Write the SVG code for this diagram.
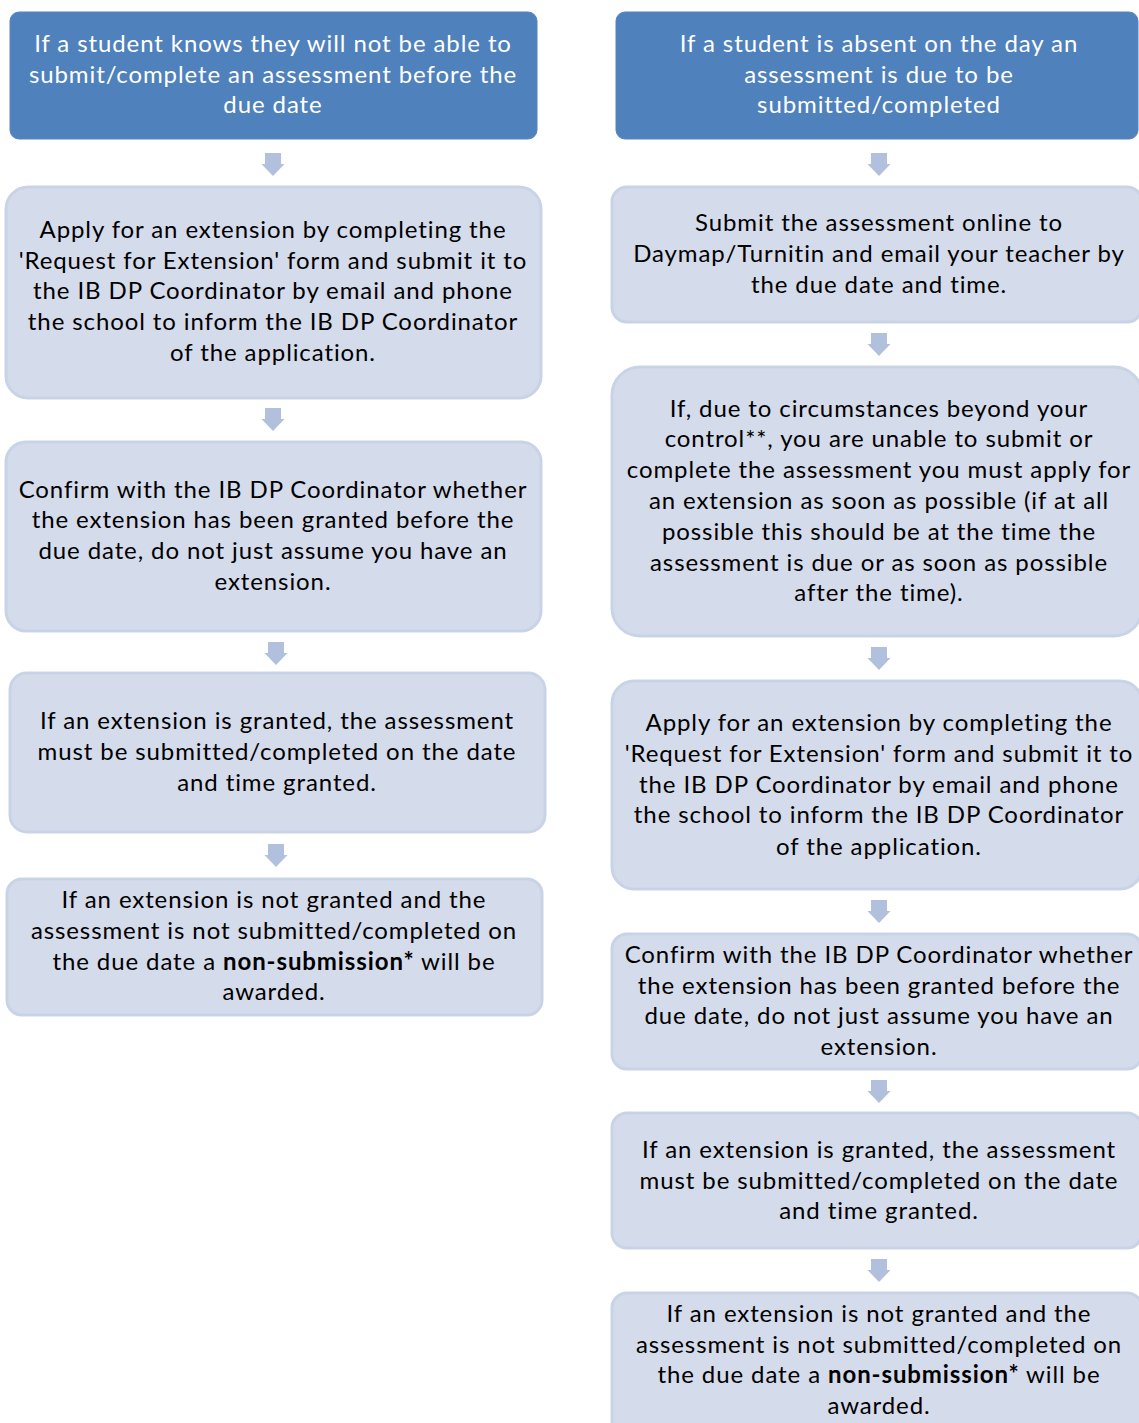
<svg xmlns="http://www.w3.org/2000/svg" width="1139" height="1423" viewBox="0 0 1139 1423">
<defs>
<style>
.hdr{fill:#4F81BD;stroke:#5585BF;stroke-width:1}
.box{fill:#D4DBEB;stroke:#C9D3E7;stroke-width:3}
.arr{fill:#B0C0DD}
text{font-family:Lato,"Open Sans","Liberation Sans",sans-serif;font-size:24px;letter-spacing:0.9px;text-anchor:middle}
.w{fill:#FFFFFF}
.k{fill:#000000}
.b{font-weight:bold}
</style>
<path id="arrow" d="M-8,0 H8 V11 H11.5 L0,23 L-11.5,11 H-8 Z"/>
</defs>
<rect width="1139" height="1423" fill="#FFFFFF"/>
<g id="connectors">
<use href="#arrow" class="arr" x="273" y="153"/>
<use href="#arrow" class="arr" x="273" y="408"/>
<use href="#arrow" class="arr" x="276" y="642"/>
<use href="#arrow" class="arr" x="276" y="844"/>
<use href="#arrow" class="arr" x="879" y="153"/>
<use href="#arrow" class="arr" x="879" y="333"/>
<use href="#arrow" class="arr" x="879" y="647"/>
<use href="#arrow" class="arr" x="879" y="900"/>
<use href="#arrow" class="arr" x="879" y="1080"/>
<use href="#arrow" class="arr" x="879" y="1259"/>
</g>
<g id="L1">
<rect class="hdr" x="10" y="12" width="527" height="127" rx="9"/>
<text class="w"><tspan x="273" y="52">If a student knows they will not be able to</tspan><tspan x="273" y="83">submit/complete an assessment before the</tspan><tspan x="273" y="113">due date</tspan></text>
</g>
<g id="L2">
<rect class="box" x="6" y="187" width="535" height="211" rx="22"/>
<text class="k"><tspan x="273" y="238">Apply for an extension by completing the</tspan><tspan x="273" y="269">'Request for Extension' form and submit it to</tspan><tspan x="273" y="299">the IB DP Coordinator by email and phone</tspan><tspan x="273" y="330">the school to inform the IB DP Coordinator</tspan><tspan x="273" y="361">of the application.</tspan></text>
</g>
<g id="L3">
<rect class="box" x="6" y="442" width="535" height="189" rx="20"/>
<text class="k"><tspan x="273" y="498">Confirm with the IB DP Coordinator whether</tspan><tspan x="273" y="528">the extension has been granted before the</tspan><tspan x="273" y="559">due date, do not just assume you have an</tspan><tspan x="273" y="590">extension.</tspan></text>
</g>
<g id="L4">
<rect class="box" x="10" y="673" width="535" height="159" rx="17"/>
<text class="k"><tspan x="277" y="729">If an extension is granted, the assessment</tspan><tspan x="277" y="760">must be submitted/completed on the date</tspan><tspan x="277" y="791">and time granted.</tspan></text>
</g>
<g id="L5">
<rect class="box" x="7" y="879" width="535" height="136" rx="15"/>
<text class="k"><tspan x="274" y="908">If an extension is not granted and the</tspan><tspan x="274" y="939">assessment is not submitted/completed on</tspan><tspan x="274" y="970">the due date a <tspan class="b">non-submission*</tspan> will be</tspan><tspan x="274" y="1000">awarded.</tspan></text>
</g>
<g id="R1">
<rect class="hdr" x="616" y="12" width="522" height="127" rx="9"/>
<text class="w"><tspan x="879" y="52">If a student is absent on the day an</tspan><tspan x="879" y="83">assessment is due to be</tspan><tspan x="879" y="113">submitted/completed</tspan></text>
</g>
<g id="R2">
<rect class="box" x="612" y="187" width="530" height="135" rx="15"/>
<text class="k"><tspan x="879" y="231">Submit the assessment online to</tspan><tspan x="879" y="262">Daymap/Turnitin and email your teacher by</tspan><tspan x="879" y="293">the due date and time.</tspan></text>
</g>
<g id="R3">
<rect class="box" x="612" y="367" width="530" height="269" rx="28"/>
<text class="k"><tspan x="879" y="417">If, due to circumstances beyond your</tspan><tspan x="879" y="447">control**, you are unable to submit or</tspan><tspan x="879" y="478">complete the assessment you must apply for</tspan><tspan x="879" y="509">an extension as soon as possible (if at all</tspan><tspan x="879" y="540">possible this should be at the time the</tspan><tspan x="879" y="571">assessment is due or as soon as possible</tspan><tspan x="879" y="601">after the time).</tspan></text>
</g>
<g id="R4">
<rect class="box" x="612" y="681" width="530" height="208" rx="22"/>
<text class="k"><tspan x="879" y="731">Apply for an extension by completing the</tspan><tspan x="879" y="762">'Request for Extension' form and submit it to</tspan><tspan x="879" y="793">the IB DP Coordinator by email and phone</tspan><tspan x="879" y="823">the school to inform the IB DP Coordinator</tspan><tspan x="879" y="855">of the application.</tspan></text>
</g>
<g id="R5">
<rect class="box" x="612" y="934" width="530" height="135" rx="15"/>
<text class="k"><tspan x="879" y="963">Confirm with the IB DP Coordinator whether</tspan><tspan x="879" y="994">the extension has been granted before the</tspan><tspan x="879" y="1024">due date, do not just assume you have an</tspan><tspan x="879" y="1055">extension.</tspan></text>
</g>
<g id="R6">
<rect class="box" x="612" y="1113" width="530" height="135" rx="15"/>
<text class="k"><tspan x="879" y="1158">If an extension is granted, the assessment</tspan><tspan x="879" y="1189">must be submitted/completed on the date</tspan><tspan x="879" y="1219">and time granted.</tspan></text>
</g>
<g id="R7">
<rect class="box" x="612" y="1293" width="530" height="145" rx="15"/>
<text class="k"><tspan x="879" y="1322">If an extension is not granted and the</tspan><tspan x="879" y="1353">assessment is not submitted/completed on</tspan><tspan x="879" y="1383">the due date a <tspan class="b">non-submission*</tspan> will be</tspan><tspan x="879" y="1414">awarded.</tspan></text>
</g>
</svg>
